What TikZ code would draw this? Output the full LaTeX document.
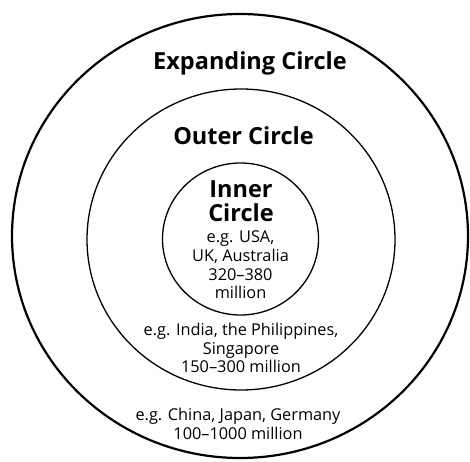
\documentclass[tikz,border=0pt]{standalone}
\usepackage{fontspec}
\setmainfont{Open Sans}
\usetikzlibrary{positioning}
\tikzset{
  ring/.style={draw=black, line width=1.3pt},
  bigring/.style={draw=black, line width=2.2pt},
  title/.style={font=\fontsize{23.5}{24}\selectfont\bfseries, align=center, inner sep=0pt},
  body/.style={font=\fontsize{16.3}{18.6}\selectfont, align=center, inner sep=0pt}
}

\begin{document}
\begin{tikzpicture}[x=1pt, y=1pt]
\useasboundingbox (0,0) rectangle (470,461);

% Circles
\draw[bigring] (240,225) ellipse [x radius=228, y radius=222];
\draw[ring] (241,221.5) ellipse [x radius=154, y radius=150.5];
\draw[ring] (240.5,222) ellipse [x radius=78, y radius=76];

% Titles
\node[title] (expanding) at (250,398) {Expanding Circle};
\node[title] (outer) at (243.5,325) {Outer Circle};
\node[title] (inner) at (241,260) {Inner\\Circle};

% Examples
\node[body] (innerex) at (240.5,196) {e.g. USA,\\UK, Australia\\320--380\\million};
\node[body] (outerex) at (241,113) {e.g. India, the Philippines,\\Singapore\\150--300 million};
\node[body] (expandingex) at (238,37) {e.g. China, Japan, Germany\\100--1000 million};

\end{tikzpicture}
\end{document}
